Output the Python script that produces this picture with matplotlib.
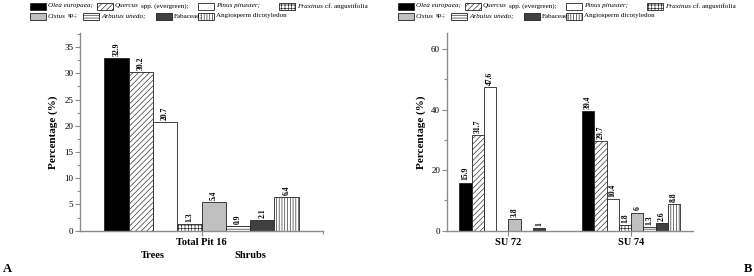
import matplotlib
matplotlib.use("Agg")
import matplotlib.pyplot as plt
from matplotlib.patches import Rectangle
from matplotlib.ticker import MultipleLocator, FixedLocator

plt.rcParams['font.family'] = ['Liberation Serif', 'DejaVu Serif']
plt.rcParams['hatch.color'] = '#555555'
plt.rcParams['hatch.linewidth'] = 0.45

# data
taxa = ["Olea europaea", "Quercus spp. (evergreen)", "Pinus pinaster",
        "Fraxinus cf. angustifolia", "Cistus sp.", "Arbutus unedo",
        "Fabaceae", "Angiosperm dicotyledon"]
# legend text split into (italic part, upright part)
legend_parts = [("Olea europaea;", ""),
                ("Quercus", "spp. (evergreen);"),
                ("Pinus pinaster;", ""),
                ("Fraxinus", "cf. angustifolia"),
                ("Cistus", "sp.;"),
                ("Arbutus unedo;", ""),
                ("", "Fabaceae;"),
                ("", "Angiosperm dicotyledon")]
pit16 = [32.9, 30.2, 20.7, 1.3, 5.4, 0.9, 2.1, 6.4]
su72 = [15.9, 31.7, 47.6, 0, 3.8, 0, 1, 0]
su74 = [39.4, 29.7, 10.4, 1.8, 6, 1.3, 2.6, 8.8]
panel_a_cats = ["Total Pit 16"]
panel_b_cats = ["SU 72", "SU 74"]
group_labels = ["Trees", "Shrubs"]

fills = ['black', 'white', 'white', 'white', '#c0c0c0', 'white', '#404040', 'white']
hatches = [None, '//////', None, '+++++', None, '------', None, '||||||']

W, H = 754, 276
fig = plt.figure(figsize=(W / 100, H / 100), dpi=100)
renderer = fig.canvas.get_renderer()

axis_grey = '#8c8c8c'
bw = 0.1


def style_axes(ax):
    for s in ['top', 'right']:
        ax.spines[s].set_visible(False)
    for s in ['left', 'bottom']:
        ax.spines[s].set_color(axis_grey)
        ax.spines[s].set_linewidth(1.0)
    ax.tick_params(which='major', direction='out', length=3.5, width=0.8,
                   color=axis_grey, labelsize=6.5, pad=1.5)
    ax.tick_params(which='minor', direction='out', length=2, width=0.8,
                   color=axis_grey)
    ax.set_ylabel("Percentage (%)", fontsize=8, fontweight='bold', labelpad=4)


def draw_group(ax, xc, values):
    for i, v in enumerate(values):
        if v == 0:
            continue
        x = xc + (i - 3.5) * bw
        ax.bar(x, v, width=bw, color=fills[i], hatch=hatches[i],
               edgecolor='#222222', linewidth=0.6)
        ax.annotate(f"{v:g}", (x, v), xytext=(0, 1.5), textcoords='offset points',
                    rotation=90, ha='center', va='bottom', fontsize=5.5,
                    fontweight='bold')


# panel A
axA = fig.add_axes([80 / W, 1 - 230.7 / H, 243 / W, 197.7 / H])
style_axes(axA)
draw_group(axA, 0, pit16)
axA.set_xlim(-0.5, 0.5)
axA.set_ylim(0, 37.7)
axA.yaxis.set_major_locator(MultipleLocator(5))
axA.yaxis.set_minor_locator(MultipleLocator(2.5))
axA.set_xticks([0])
axA.set_xticklabels(panel_a_cats, fontsize=7.5, fontweight='bold')
axA.xaxis.set_minor_locator(FixedLocator([0.5]))
axA.text(-0.2, -0.105, group_labels[0], transform=axA.get_xaxis_transform(),
         ha='center', va='top', fontsize=7.5, fontweight='bold')
axA.text(0.2, -0.105, group_labels[1], transform=axA.get_xaxis_transform(),
         ha='center', va='top', fontsize=7.5, fontweight='bold')

# panel B
axB = fig.add_axes([447 / W, 1 - 230.7 / H, 245.5 / W, 197.7 / H])
style_axes(axB)
draw_group(axB, 0, su72)
draw_group(axB, 1, su74)
axB.set_xlim(-0.5, 1.5)
axB.set_ylim(0, 65.3)
axB.yaxis.set_major_locator(MultipleLocator(20))
axB.yaxis.set_minor_locator(MultipleLocator(10))
axB.set_xticks([0, 1])
axB.set_xticklabels(panel_b_cats, fontsize=7.5, fontweight='bold')

# legends drawn as flowing text rows
row_y = [6, 16]
row_offsets = [[0, 67, 168, 249], [0, 53, 126, 168]]
order = [[0, 1, 2, 3], [4, 5, 6, 7]]
fs_leg = 5.1
for base in [30, 398]:
    for r in range(2):
        for off, idx in zip(row_offsets[r], order[r]):
            px = base + off
            py = row_y[r]
            fig.add_artist(Rectangle((px / W, 1 - (py + 3.5) / H), 16 / W, 7 / H,
                                     transform=fig.transFigure, facecolor=fills[idx],
                                     hatch=hatches[idx], edgecolor='#222222',
                                     linewidth=0.6))
            tx = px + 18
            ital, upright = legend_parts[idx]
            if ital:
                t = fig.text(tx / W, 1 - py / H, ital, fontsize=fs_leg, style='italic',
                             ha='left', va='center')
                tx = t.get_window_extent(renderer).x1 + 2
            if upright:
                fig.text(tx / W, 1 - py / H, upright, fontsize=fs_leg,
                         ha='left', va='center')

fig.text(3 / W, 1 - 268.5 / H, "A", fontsize=9, fontweight='bold', va='center')
fig.text(744 / W, 1 - 268.5 / H, "B", fontsize=9, fontweight='bold', va='center')

fig.savefig("out.png", dpi=100)
